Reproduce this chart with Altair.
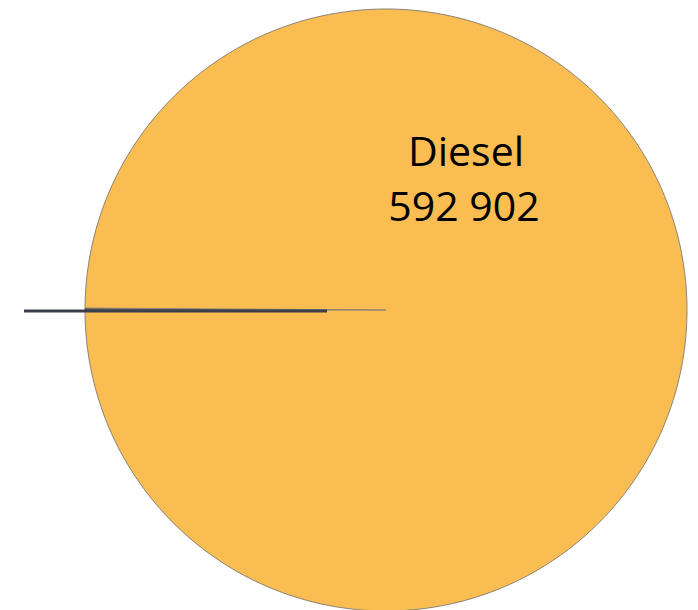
import altair as alt
import pandas as pd
import math

categories = ["Other", "Diesel"]
values = [600, 592902]
colors = ["#3b3f4a", "#F9BD52"]
strokes = ["#3b3f4a", "#8c8478"]

df = pd.DataFrame({"category": categories, "value": values, "order": [0, 1]})
df["label"] = df["value"].map(lambda v: f"{v:,}".replace(",", " "))

cx, cy, r = 386, 310, 301
start = 1.5 * math.pi

base = alt.Chart(df)

pie = base.mark_arc(radius=r, strokeWidth=1).encode(
    theta=alt.Theta("value:Q", stack=True, scale=alt.Scale(range=[start, start + 2 * math.pi])),
    order=alt.Order("order:Q"),
    color=alt.Color("category:N", scale=alt.Scale(domain=categories, range=colors), legend=None),
    stroke=alt.Stroke("category:N", scale=alt.Scale(domain=categories, range=strokes), legend=None),
    x=alt.value(cx),
    y=alt.value(cy),
)

leader = alt.Chart(df[df["category"] == "Other"]).mark_rule(
    color="#3b3f4a", strokeWidth=3
).encode(x=alt.value(24), x2=alt.value(327), y=alt.value(311))

diesel = df[df["category"] == "Diesel"]
t1 = alt.Chart(diesel).mark_text(font="Open Sans", fontSize=41, color="black").encode(
    text="category:N", x=alt.value(466), y=alt.value(154)
)
t2 = alt.Chart(diesel).mark_text(font="Open Sans", fontSize=41, color="black").encode(
    text="label:N", x=alt.value(464), y=alt.value(209)
)

chart = alt.layer(pie, leader, t1, t2).properties(
    width=698, height=610, padding=0, autosize="none"
).configure_view(stroke=None)

chart.save("out.html", embed_options={"renderer": "svg", "actions": False})
